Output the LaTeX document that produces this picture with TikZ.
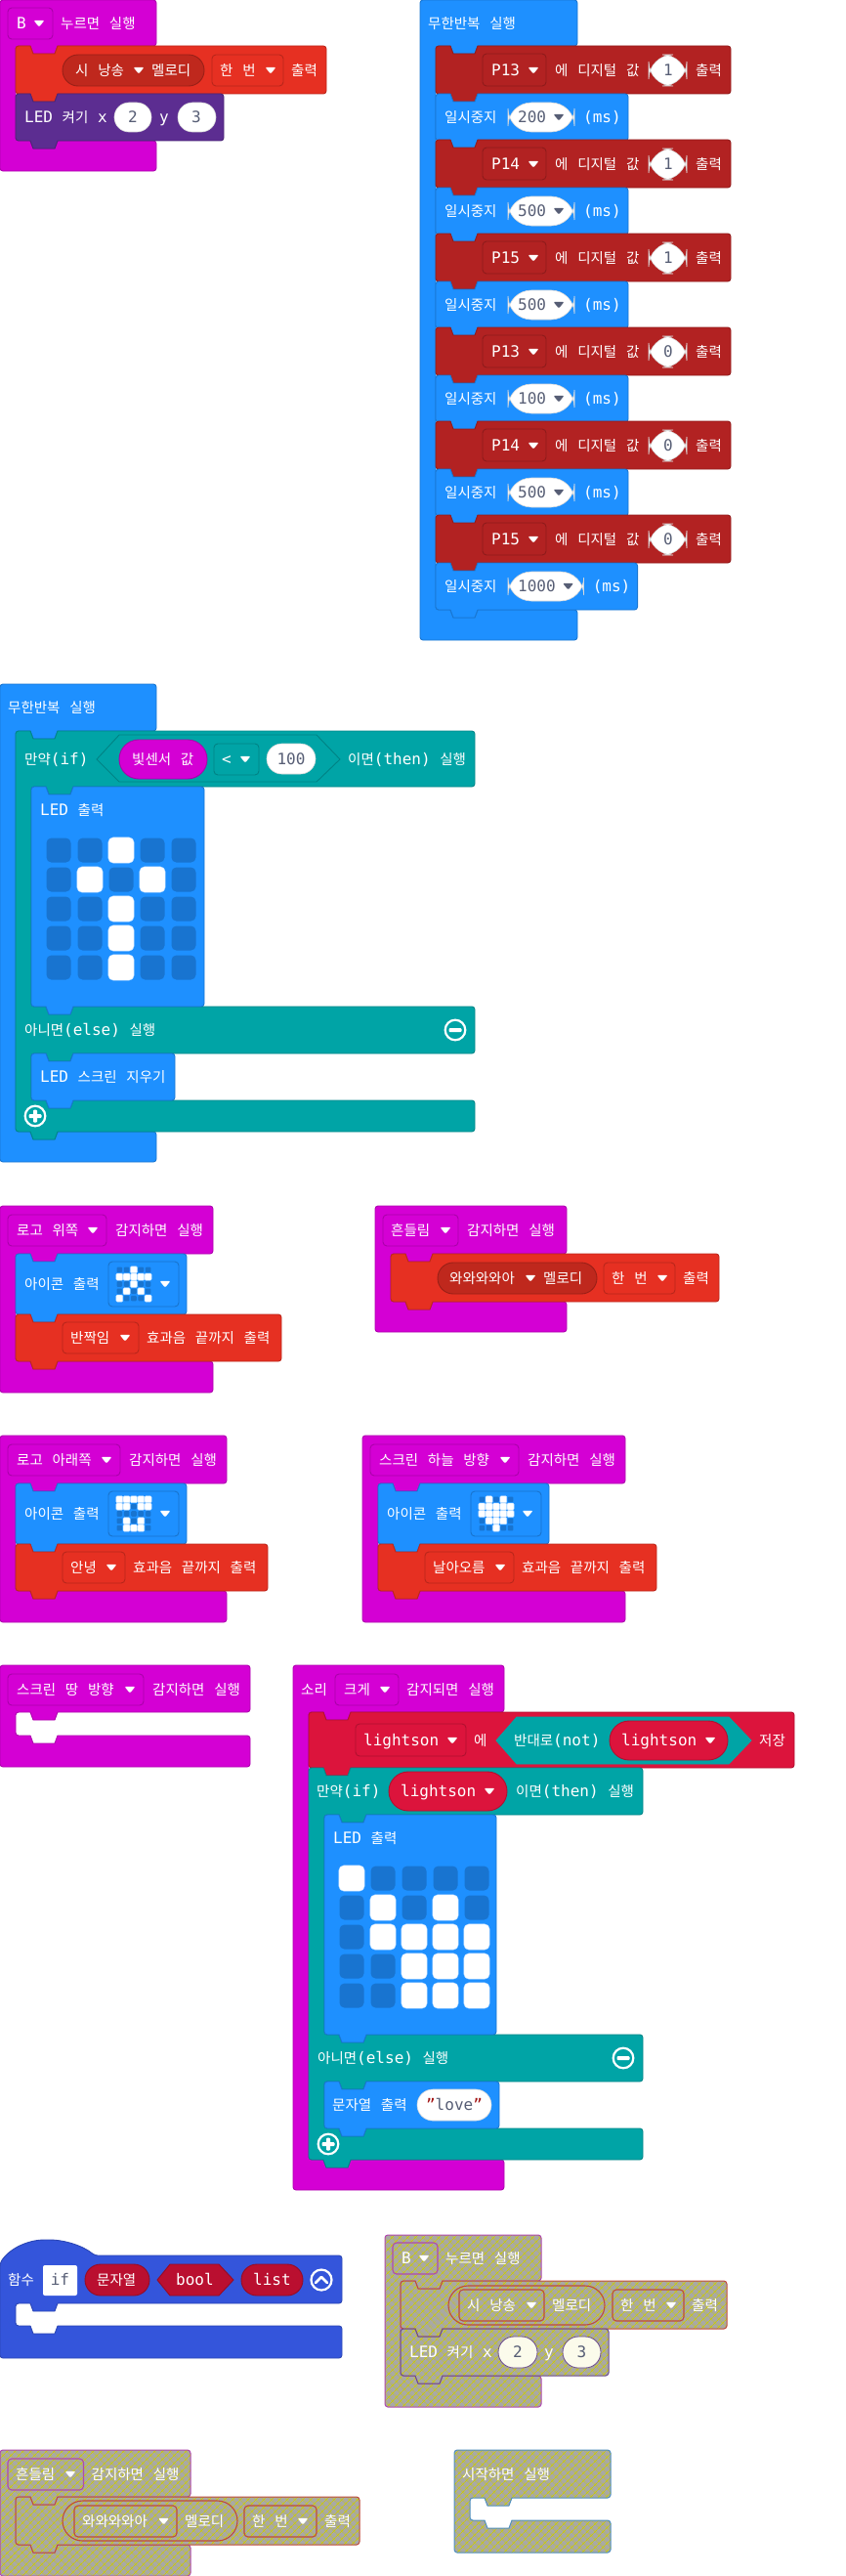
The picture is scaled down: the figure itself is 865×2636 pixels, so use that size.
\documentclass[tikz,border=0pt]{standalone}
\usepackage{fontspec}
\usetikzlibrary{patterns.meta}
\setmainfont{DejaVu Sans Mono}
\newfontfamily\krf[WordSpace=3]{Noto Sans CJK KR}
\newcommand{\K}[1]{{\krf\fontsize{14.5}{18}\selectfont #1}}
\definecolor{mag}{HTML}{D400D4}
\definecolor{redb}{HTML}{E63022}
\definecolor{redp}{HTML}{BF281D}
\definecolor{purp}{HTML}{5C2D91}
\definecolor{blu}{HTML}{1E90FF}
\definecolor{ledd}{HTML}{1874D0}
\definecolor{teal2}{HTML}{00A4A6}
\definecolor{dred}{HTML}{B22222}
\definecolor{crim}{HTML}{DC143C}
\definecolor{funb}{HTML}{3455DB}
\definecolor{parm}{HTML}{BA0F30}
\definecolor{valt}{HTML}{575E75}
\definecolor{disg}{HTML}{A8A8A8}
\definecolor{disy}{HTML}{CCCC00}
\definecolor{quot}{HTML}{A31515}
\newcounter{tn}
\tikzset{
  blk/.style={fill=#1,draw=#1!82!black,line width=.9pt,line join=round},
  ctl/.style={fill=#1,draw=#1!80!black,line width=.9pt},
  val/.style={fill=white,draw=black!15,line width=.6pt},
  dis/.style={preaction={fill=disg},pattern={Hatch[distance=5.4pt,angle=45,line width=.8pt]},pattern color=disy,draw=#1,line width=1pt,line join=round},
  disc/.style={draw=#1,line width=1.1pt},
  disv/.style={fill=white!92!disy,draw=#1,line width=.8pt},
  txtw/.style={anchor=base west,inner sep=0pt,text=white,font=\fontsize{16}{18}\selectfont},
  txtd/.style={anchor=base,inner sep=0pt,text=valt,font=\fontsize{16}{18}\selectfont},
}
\newcommand{\T}[3]{\stepcounter{tn}\node[txtw,name=t\thetn] at (#1,#2+5.5) {#3};}
\newcommand{\V}[3]{\stepcounter{tn}\node[txtd,name=t\thetn] at (#1,#2+5.5) {#3};}
\newcommand{\Tri}[3][white]{\fill[#1,rounded corners=1.2pt] (#2-5.5,#3-3.2) -- (#2+5.5,#3-3.2) -- (#2,#3+3.6) -- cycle;}
\newcommand{\NR}[2]{ -- (#1+12,#2) .. controls (#1+15,#2) and (#1+18,#2+8) .. (#1+21,#2+8) -- (#1+37,#2+8) .. controls (#1+40,#2+8) and (#1+43,#2) .. (#1+46,#2) }
\newcommand{\NL}[2]{ -- (#1+46,#2) .. controls (#1+43,#2) and (#1+40,#2+8) .. (#1+37,#2+8) -- (#1+21,#2+8) .. controls (#1+18,#2+8) and (#1+15,#2) .. (#1+12,#2) }
% style x y w h
\newcommand{\Stm}[5]{\path[#1,rounded corners=3pt] (#2,#3) \NR{#2}{#3} -- (#2+#4,#3) -- (#2+#4,#3+#5) \NL{#2}{#3+#5} -- (#2,#3+#5) -- cycle;}
% style x y w mouthtop mouthbottom bottom inner
\newcommand{\Hatblk}[8]{\path[#1,rounded corners=3pt] (#2,#3) -- (#2+#4,#3) -- (#2+#4,#5) \NL{#8}{#5} -- (#8,#5) -- (#8,#6) \NR{#8}{#6} -- (#2+#4,#6) -- (#2+#4,#7) -- (#2,#7) -- cycle;}
% x y w y1 y2 y3 y4 y5 inner
\newcommand{\Ifblk}[9]{\path[blk=teal2,rounded corners=3pt] (#1,#2) \NR{#1}{#2} -- (#1+#3,#2) -- (#1+#3,#4) \NL{#9}{#4} -- (#9,#4) -- (#9,#5) \NR{#9}{#5} -- (#1+#3,#5) -- (#1+#3,#6) \NL{#9}{#6} -- (#9,#6) -- (#9,#7) \NR{#9}{#7} -- (#1+#3,#7) -- (#1+#3,#8) \NL{#1}{#8} -- (#1,#8) -- cycle;}
\newcommand{\RR}[5]{\path[#1,rounded corners=4pt] (#2,#3) rectangle (#4,#5);}
\newcommand{\PL}[5]{\pgfmathsetmacro\rr{(#5-#3)/2-0.01}\path[#1,rounded corners=\rr pt] (#2,#3) rectangle (#4,#5);}
% x y dx dy size radius pattern
\newcommand{\Grid}[7]{\foreach \vv [count=\ii from 0] in {#7} {%
  \pgfmathtruncatemacro\cc{mod(\ii,5)}\pgfmathtruncatemacro\rw{int(\ii/5)}%
  \ifnum\vv=1 \path[fill=white,draw=white!75!blu,line width=.5pt,rounded corners=#6 pt] (#1+\cc*#3-#5/2-.6,#2+\rw*#4-#5/2-.6) rectangle (#1+\cc*#3+#5/2+.6,#2+\rw*#4+#5/2+.6);
  \else \path[fill=ledd,rounded corners=#6 pt] (#1+\cc*#3-#5/2,#2+\rw*#4-#5/2) rectangle (#1+\cc*#3+#5/2,#2+\rw*#4+#5/2); \fi}}
\newcommand{\Icon}[3]{\RR{ctl=blu}{#1}{#2-23}{#1+72}{#2+23}\Grid{#1+11.3}{#2-14.7}{7.33}{7.33}{5.6}{1}{#3}\Tri{#1+58}{#2}}
\newcommand{\BtnMinus}[2]{\draw[white,line width=2.2pt] (#1,#2) circle (10.3);\fill[white,rounded corners=1pt] (#1-6.5,#2-2) rectangle (#1+6.5,#2+2);}
\newcommand{\BtnPlus}[2]{\draw[white,line width=2.2pt] (#1,#2) circle (10.3);\fill[white,rounded corners=1pt] (#1-6.5,#2-2) rectangle (#1+6.5,#2+2);\fill[white,rounded corners=1pt] (#1-2,#2-6.5) rectangle (#1+2,#2+6.5);}
\begin{document}
\begin{tikzpicture}[x=1pt,y=-1pt]
\useasboundingbox (0,0) rectangle (865,2636);
\fill[white] (0,0) rectangle (865,2636);
% --- B button
\Hatblk{blk=mag}{0}{0}{160}{47}{144}{175}{16}
\RR{ctl=mag}{8}{8}{54}{40}\T{17}{24}{B}\Tri{40}{24}\T{62}{24}{\K{누르면 실행}}
\Stm{blk=redb}{16}{47}{318}{49}
\PL{ctl=redp}{64}{56}{209}{88}\T{77}{72}{\K{시 낭송}}\Tri{142}{72}\T{155}{72}{\K{멜로디}}
\RR{ctl=redb}{217}{56}{290}{88}\T{225}{72}{\K{한 번}}\Tri{277}{72}\T{298}{72}{\K{출력}}
\Stm{blk=purp}{16}{96}{213}{48}
\T{25}{120}{LED \K{켜기} x}\PL{val}{117}{105}{155}{135}\V{136}{120}{2}\T{163}{120}{y}\PL{val}{182}{105}{221}{135}\V{201}{120}{3}
% --- forever pins
\Hatblk{blk=blu}{430}{0}{161}{47}{624}{655}{446}
\T{438}{24}{\K{무한반복 실행}}
\foreach \k/\p/\v/\ms/\e in {0/P13/1/200/0,1/P14/1/500/0,2/P15/1/500/0,3/P13/0/100/0,4/P14/0/500/0,5/P15/0/1000/9.6} {
  \pgfmathsetmacro\Y{47+96*\k}\pgfmathsetmacro\Z{96+96*\k}
  \Stm{blk=dred}{446}{\Y}{302}{49}
  \RR{ctl=dred}{494}{\Y+8}{559}{\Y+41}\T{503}{\Y+25}{\p}\Tri{546}{\Y+25}
  \T{568}{\Y+25}{\K{에 디지털 값}}\PL{val}{664}{\Y+9}{703}{\Y+41}\V{684}{\Y+25}{\v}\T{712}{\Y+25}{\K{출력}}
  \Stm{blk=blu}{446}{\Z}{197+\e}{48}
  \T{455}{\Z+24}{\K{일시중지}}\PL{val}{520}{\Z+9}{588+\e}{\Z+39}
  \stepcounter{tn}\node[txtd,anchor=base west,name=t\thetn] at (530,\Z+29.5) {\ms};
  \Tri[valt]{572+\e}{\Z+24}\T{597+\e}{\Z+24}{(ms)}
}
% --- forever if
\Hatblk{blk=blu}{0}{700}{160}{748}{1158}{1189}{16}
\T{8}{724}{\K{무한반복 실행}}
\Ifblk{16}{748}{470}{805}{1030}{1078}{1126}{1158}{32}
\T{25}{777}{\K{만약}(if)}
\path[ctl=teal2] (99,777) -- (122,752) -- (324,752) -- (348,777) -- (324,800) -- (122,800) -- cycle;
\PL{ctl=mag}{122}{757}{212}{797}\T{135}{777}{\K{빛센서 값}}
\RR{ctl=teal2}{219}{761}{265}{793}\T{227}{777}{<}\Tri{251}{777}
\PL{val}{273}{761}{323}{792}\V{298}{777}{100}
\T{356}{777}{\K{이면}(then) \K{실행}}
\Stm{blk=blu}{32}{805}{177}{225}
\T{41}{829}{LED \K{출력}}
\Grid{60}{870}{32}{30}{25}{5}{0,0,1,0,0,0,1,0,1,0,0,0,1,0,0,0,0,1,0,0,0,0,1,0,0}
\T{25}{1054}{\K{아니면}(else) \K{실행}}\BtnMinus{466}{1054}
\Stm{blk=blu}{32}{1078}{147}{48}\T{41}{1102}{LED \K{스크린 지우기}}
\BtnPlus{36}{1142}
% --- logo up
\Hatblk{blk=mag}{0}{1234}{218}{1283}{1393}{1425}{16}
\RR{ctl=mag}{8}{1243}{109}{1275}\T{17}{1259}{\K{로고 위쪽}}\Tri{95}{1259}\T{118}{1259}{\K{감지하면 실행}}
\Stm{blk=blu}{16}{1283}{175}{62}\T{25}{1314}{\K{아이콘 출력}}
\Icon{111}{1314}{0,0,1,0,0,1,1,1,1,1,0,0,1,0,0,0,1,0,1,0,1,0,0,0,1}
\Stm{blk=redb}{16}{1345}{272}{48}
\RR{ctl=redb}{64}{1353}{142}{1385}\T{72}{1369}{\K{반짝임}}\Tri{128}{1369}\T{150}{1369}{\K{효과음 끝까지 출력}}
% --- shake
\Hatblk{blk=mag}{384}{1234}{196}{1283}{1332}{1363}{400}
\RR{ctl=mag}{392}{1243}{469}{1275}\T{400}{1259}{\K{흔들림}}\Tri{456}{1259}\T{478}{1259}{\K{감지하면 실행}}
\Stm{blk=redb}{400}{1283}{336}{49}
\PL{ctl=redp}{448}{1292}{611}{1324}\T{460}{1308}{\K{와와와와아}}\Tri{543}{1308}\T{556}{1308}{\K{멜로디}}
\RR{ctl=redb}{618}{1292}{691}{1324}\T{626}{1308}{\K{한 번}}\Tri{678}{1308}\T{699}{1308}{\K{출력}}
% --- logo down
\Hatblk{blk=mag}{0}{1469}{232}{1518}{1628}{1660}{16}
\RR{ctl=mag}{8}{1478}{123}{1510}\T{17}{1494}{\K{로고 아래쪽}}\Tri{109}{1494}\T{132}{1494}{\K{감지하면 실행}}
\Stm{blk=blu}{16}{1518}{175}{62}\T{25}{1549}{\K{아이콘 출력}}
\Icon{111}{1549}{1,1,1,1,1,1,1,0,1,1,0,0,0,0,0,0,1,0,1,0,0,1,1,1,0}
\Stm{blk=redb}{16}{1580}{258}{48}
\RR{ctl=redb}{64}{1588}{128}{1620}\T{72}{1604}{\K{안녕}}\Tri{114}{1604}\T{136}{1604}{\K{효과음 끝까지 출력}}
% --- screen up
\Hatblk{blk=mag}{371}{1469}{269}{1518}{1628}{1660}{387}
\RR{ctl=mag}{379}{1478}{531}{1510}\T{388}{1494}{\K{스크린 하늘 방향}}\Tri{517}{1494}\T{540}{1494}{\K{감지하면 실행}}
\Stm{blk=blu}{387}{1518}{175}{62}\T{396}{1549}{\K{아이콘 출력}}
\Icon{482}{1549}{0,1,0,1,0,1,1,1,1,1,1,1,1,1,1,0,1,1,1,0,0,0,1,0,0}
\Stm{blk=redb}{387}{1580}{285}{48}
\RR{ctl=redb}{435}{1588}{526}{1620}\T{443}{1604}{\K{날아오름}}\Tri{512}{1604}\T{534}{1604}{\K{효과음 끝까지 출력}}
% --- screen down
\Hatblk{blk=mag}{0}{1704}{256}{1752}{1776}{1808}{16}
\RR{ctl=mag}{8}{1713}{147}{1745}\T{17}{1729}{\K{스크린 땅 방향}}\Tri{133}{1729}\T{156}{1729}{\K{감지하면 실행}}
% --- sound
\Hatblk{blk=mag}{300}{1704}{216}{1752}{2210}{2241}{316}
\T{308}{1729}{\K{소리}}\RR{ctl=mag}{343}{1713}{408}{1745}\T{352}{1729}{\K{크게}}\Tri{394}{1729}\T{416}{1729}{\K{감지되면 실행}}
\Stm{blk=crim}{316}{1752}{497}{57}
\RR{ctl=crim}{364}{1764}{477}{1797}\T{372}{1781}{lightson}\Tri{463}{1781}\T{485}{1781}{\K{에}}
\path[ctl=teal2,draw=teal2] (508,1781) -- (529,1757) -- (746,1757) -- (769,1781) -- (746,1805) -- (529,1805) -- cycle;
\T{526}{1781}{\K{반대로}(not)}
\PL{ctl=crim}{624}{1761}{745}{1801}\T{636}{1781}{lightson}\Tri{727}{1781}
\T{777}{1781}{\K{저장}}
\Ifblk{316}{1809}{342}{1857}{2082}{2130}{2178}{2210}{332}
\T{324}{1833}{\K{만약}(if)}
\PL{ctl=crim}{398}{1813}{519}{1853}\T{410}{1833}{lightson}\Tri{501}{1833}
\T{528}{1833}{\K{이면}(then) \K{실행}}
\Stm{blk=blu}{332}{1857}{176}{225}
\T{341}{1881}{LED \K{출력}}
\Grid{360}{1922}{32}{30}{25}{5}{1,0,0,0,0,0,1,0,1,0,0,1,1,1,1,0,0,1,1,1,0,0,1,1,1}
\T{325}{2106}{\K{아니면}(else) \K{실행}}\BtnMinus{638}{2106}
\Stm{blk=blu}{332}{2130}{179}{48}\T{340}{2154}{\K{문자열 출력}}
\PL{val}{427}{2138}{503}{2170}
\V{465}{2154}{\textcolor{quot}{"}love\textcolor{quot}{"}}
\BtnPlus{336}{2194}
% --- function
\path[blk=funb,rounded corners=3pt] (0,2316) .. controls (10,2300) and (30,2292) .. (48,2292) .. controls (66,2292) and (85,2298) .. (97,2308) -- (350,2308) -- (350,2357) \NL{16}{2357} -- (16,2357) -- (16,2380) \NR{16}{2380} -- (350,2380) -- (350,2413) -- (0,2413) -- cycle;
\T{8}{2333}{\K{함수}}
\path[fill=white,rounded corners=2pt] (44,2318) rectangle (79,2349);\V{61.5}{2333}{if}
\PL{ctl=parm}{87}{2317}{153}{2349}\T{99}{2333}{\K{문자열}}
\path[ctl=parm] (161,2333) -- (174,2317) -- (224,2317) -- (239,2333) -- (224,2349) -- (174,2349) -- cycle;
\T{180}{2333}{bool}
\PL{ctl=parm}{247}{2317}{310}{2349}\T{259}{2333}{list}
\draw[white,line width=2.2pt] (329,2333) circle (10.5);
\draw[white,line width=2.6pt,line cap=round,line join=round] (323,2336) -- (329,2330) -- (335,2336);
% --- disabled B
\definecolor{dm}{HTML}{B048B0}\definecolor{dr}{HTML}{C04A3C}\definecolor{dp}{HTML}{6A4A90}\definecolor{db}{HTML}{5090C0}
\Hatblk{dis=dm}{394}{2287}{160}{2334}{2431}{2463}{410}
\RR{disc=dm}{402}{2295}{448}{2327}\T{411}{2311}{B}\Tri{434}{2311}\T{456}{2311}{\K{누르면 실행}}
\Stm{dis=dr}{410}{2334}{334}{49}
\PL{disc=dr}{459}{2339}{619}{2379}\RR{disc=dr}{470}{2343}{557}{2375}
\T{478}{2359}{\K{시 낭송}}\Tri{544}{2359}\T{565}{2359}{\K{멜로디}}
\RR{disc=dr}{627}{2343}{700}{2375}\T{635}{2359}{\K{한 번}}\Tri{687}{2359}\T{708}{2359}{\K{출력}}
\Stm{dis=dp}{410}{2383}{213}{48}
\T{419}{2407}{LED \K{켜기} x}\PL{disv=dp}{510}{2391}{550}{2423}\V{530}{2407}{2}\T{557}{2407}{y}\PL{disv=dp}{576}{2391}{615}{2423}\V{595.5}{2407}{3}
% --- disabled shake
\Hatblk{dis=dm}{0}{2507}{195}{2555}{2604}{2636}{16}
\RR{disc=dm}{8}{2516}{85.5}{2548}\T{16}{2532}{\K{흔들림}}\Tri{72}{2532}\T{93.5}{2532}{\K{감지하면 실행}}
\Stm{dis=dr}{16}{2555}{352}{49}
\PL{disc=dr}{64}{2559}{243}{2600}\RR{disc=dr}{76}{2564}{181}{2596}
\T{84}{2580}{\K{와와와와아}}\Tri{167.5}{2580}\T{189}{2580}{\K{멜로디}}
\RR{disc=dr}{250}{2564}{324}{2596}\T{258}{2580}{\K{한 번}}\Tri{310}{2580}\T{332}{2580}{\K{출력}}
% --- disabled start
\Hatblk{dis=db}{465}{2507}{160}{2556}{2579}{2612}{481}
\T{473}{2532}{\K{시작하면 실행}}
\end{tikzpicture}
\end{document}
